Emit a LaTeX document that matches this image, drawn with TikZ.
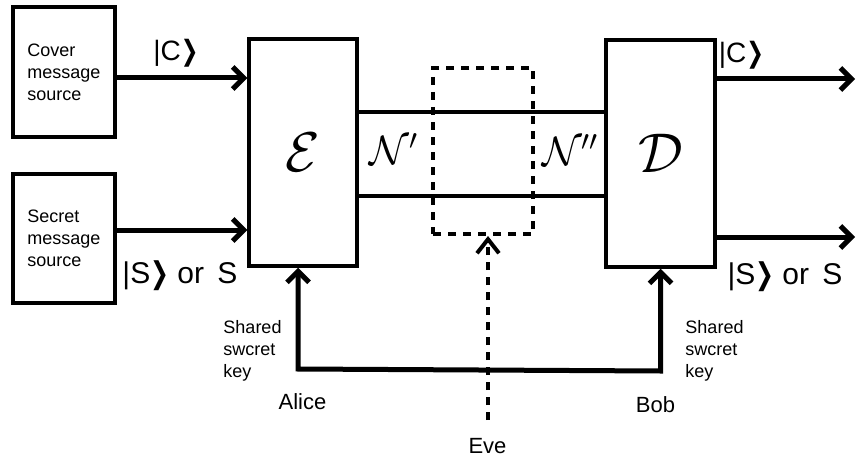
\documentclass[tikz,border=0pt]{standalone}
\usepackage{fix-cm}
\usepackage{amsmath,amssymb,bm}
\usepackage{fontspec}
\setmainfont{Liberation Sans}
\newfontfamily\chevfont{DejaVu Sans}
\usetikzlibrary{arrows.meta}
\newcommand{\qket}[1]{|#1{\chevfont\scalebox{0.75}[1]{❯}}}

\begin{document}
\begin{tikzpicture}[x=1pt,y=1pt,line width=3.5pt,
  >={Straight Barb[length=11pt,width=22pt]},
  srcbox/.style={draw,inner sep=0pt,minimum width=102pt,minimum height=130pt,
    align=left,font=\fontsize{18}{22}\selectfont},
  opbox/.style={draw,inner sep=0pt,minimum width=108pt,minimum height=227pt,
    font=\fontsize{56}{56}\selectfont},
  flow/.style={line width=5pt,->},
  wire/.style={line width=4.5pt},
  spy/.style={line width=4pt,dash pattern=on 8pt off 7pt},
  qlabel/.style={anchor=base,font=\fontsize{28}{28}\selectfont},
  chlabel/.style={font=\fontsize{41}{41}\selectfont},
  keytext/.style={align=left,font=\fontsize{18}{22}\selectfont},
  who/.style={anchor=base,font=\fontsize{22}{22}\selectfont}]
\useasboundingbox (0,0) rectangle (857,459);
% message sources
\node[srcbox] (cover) at (64,387) {Cover\\message\\source};
\node[srcbox,minimum height=129pt] (secret) at (64,220.5) {Secret\\message\\source};
% encoder and decoder
\node[opbox] (enc) at (303,306.5) {$\mathcal{E}$};
\node[opbox,minimum width=109pt] (dec) at (660.5,305.5) {$\mathcal{D}$};
% channel with Eve's box
\node[spy,draw,minimum width=100pt,minimum height=166pt] (evebox) at (483,308) {};
\draw[wire] (enc.east |- 0,347) -- (dec.west |- 0,347);
\draw[wire] (enc.east |- 0,263) -- (dec.west |- 0,263);
\node[chlabel] (nin) at (394,310) {$\mathcal{N}'$};
\node[chlabel] (nout) at (570,309) {$\mathcal{N}''$};
% inputs
\draw[flow] ([yshift=-6pt]cover.east) -- ([yshift=-6pt]cover.east -| enc.west);
\draw[flow] ([yshift=8.5pt]secret.east) -- ([yshift=8.5pt]secret.east -| enc.west);
\node[qlabel] (cin) at (176,399) {\qket{C}};
\node[qlabel,font=\fontsize{30}{30}\selectfont] (sin) at (180,176) {\qket{S} or\, S};
% outputs
\coordinate (cout) at (855,380);
\coordinate (sout) at (855,222);
\draw[flow] (dec.east |- cout) -- (cout);
\draw[flow] (dec.east |- sout) -- (sout);
\node[qlabel] (cres) at (741.5,396) {\qket{C}};
\node[qlabel,font=\fontsize{30}{30}\selectfont] (sres) at (785,175) {\qket{S} or\, S};
% shared key
\draw[flow,<->] ([xshift=-5pt]enc.south) -- ([xshift=-5pt]enc.south |- 0,90)
  -- (dec.south |- 0,88) -- (dec.south);
\node[keytext] (keya) at (252.5,108) {Shared\\swcret\\key};
\node[keytext] (keyb) at (714.5,108) {Shared\\swcret\\key};
\node[who] (alice) at (302.5,50) {Alice};
\node[who] (bob) at (655.5,47) {Bob};
% Eve
\coordinate (evetail) at (488,39);
\draw[spy,->,>={Straight Barb[length=14pt,width=22pt]}] (evetail) -- (evetail |- evebox.south);
\node[who] (eve) at (487.5,6) {Eve};
\end{tikzpicture}
\end{document}
